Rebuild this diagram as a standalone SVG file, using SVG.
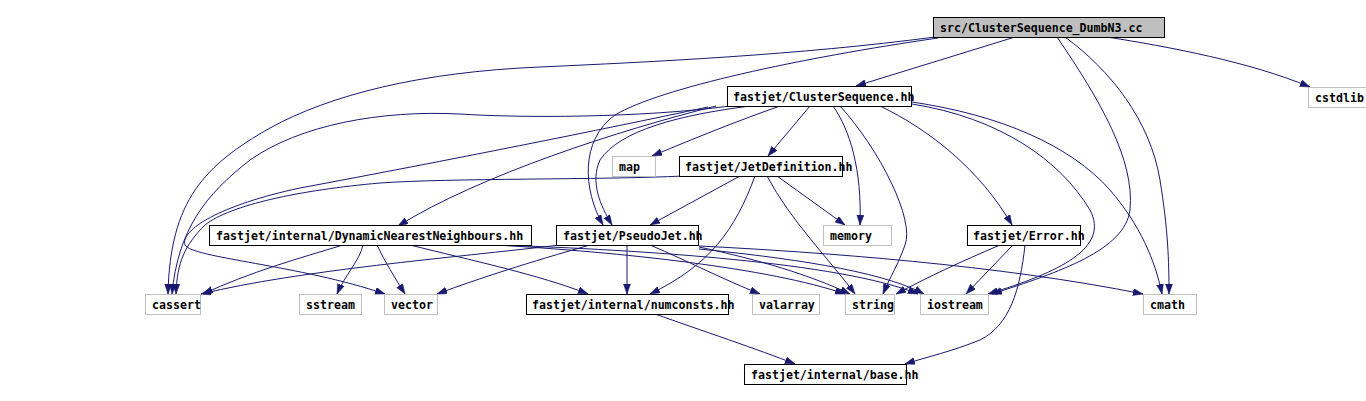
<svg xmlns="http://www.w3.org/2000/svg" width="1366" height="401" viewBox="0 0 1366 401">
<style>
.box{fill:#ffffff;stroke:#000000;stroke-width:1}
.ext{fill:#ffffff;stroke:#bfbfbf;stroke-width:1}
.root{fill:#bfbfbf;stroke:#000000;stroke-width:1}
text{font-family:"DejaVu Sans Mono","Liberation Mono",monospace;font-weight:bold;font-size:11.6px;fill:#000000}
.edge path{fill:none;stroke:#191970;stroke-width:1;marker-end:url(#arrow)}
</style>
<defs>
<marker id="arrow" markerUnits="userSpaceOnUse" markerWidth="11" markerHeight="8" refX="10" refY="3.5" orient="auto">
<path d="M0,0 L10,3.5 L0,7 z" fill="#191970" stroke="#191970" stroke-width="0.5"/>
</marker>
</defs>
<rect width="1366" height="401" fill="#ffffff"/>
<g id="edges" class="edge">
<!-- src -->
<path d="M1015,37 L856,86"/>
<path d="M1107,37 C1170,47 1250,62 1310,87"/>
<path d="M1057,37 C1100,100 1135,160 1130,210 C1125,250 1060,272 992,294"/>
<path d="M1065,37 C1110,70 1150,120 1160,180 C1168,230 1169,260 1169,294"/>
<path d="M938,38 C800,58 660,88 615,115 C580,140 583,190 603,225"/>
<path d="M935,37 C800,55 650,62 540,67 C420,72 330,95 270,128 C205,165 170,200 168,294"/>
<!-- ClusterSequence.hh -->
<path d="M810,106 L768,156"/>
<path d="M780,106 C740,120 700,136 652,156"/>
<path d="M833,106 C850,130 862,170 860,225"/>
<path d="M840,106 C880,150 915,220 905,245 C898,265 890,277 883,294"/>
<path d="M880,106 C930,130 980,170 1012,225"/>
<path d="M912,104 C1000,118 1060,160 1090,210 C1110,248 1060,272 988,294"/>
<path d="M912,102 C1000,115 1070,145 1110,190 C1140,225 1155,260 1162,294"/>
<path d="M730,106 C640,118 520,118 460,114 C380,110 300,125 250,160 C205,195 178,230 172,294"/>
<path d="M716,106 C620,130 480,175 398,226"/>
<path d="M708,107 C600,130 450,160 300,188 C220,205 180,230 185,245 C192,258 300,265 385,294"/>
<path d="M750,106 C680,115 620,130 600,160 C590,182 600,205 612,225"/>
<!-- JetDefinition.hh -->
<path d="M684,176 C600,180 450,178 380,183 C300,190 230,205 205,225 C185,245 177,262 176,294"/>
<path d="M740,176 L650,225"/>
<path d="M755,176 C735,230 710,265 650,294"/>
<path d="M767,176 C790,220 830,260 855,294"/>
<path d="M777,176 L845,225"/>
<!-- DynamicNearestNeighbours.hh -->
<path d="M343,245 C300,258 250,272 203,294"/>
<path d="M363,245 C360,260 345,275 337,294"/>
<path d="M377,245 C385,262 395,278 405,294"/>
<path d="M410,245 C470,260 540,275 588,294"/>
<path d="M495,245 C620,252 770,268 845,294"/>
<path d="M500,245 C640,250 840,262 918,294"/>
<!-- PseudoJet.hh -->
<path d="M560,245 C450,258 300,270 201,294"/>
<path d="M590,245 C530,262 480,278 437,294"/>
<path d="M627,245 L627,294"/>
<path d="M650,245 C690,262 720,278 760,294"/>
<path d="M699,247 C760,260 810,275 850,294"/>
<path d="M699,249 C780,257 880,270 924,294"/>
<path d="M699,246 C820,252 1000,265 1143,294"/>
<!-- Error.hh -->
<path d="M1000,245 C960,262 930,276 896,294"/>
<path d="M1013,245 L966,294"/>
<path d="M1025,245 C1020,290 1010,325 980,340 C950,352 930,356 905,364"/>
<!-- numconsts.hh -->
<path d="M655,314 C700,330 760,350 795,364"/>
</g>
<g id="node1"><rect class="root" x="933.5" y="17.5" width="231" height="20"/><text x="940" y="31.5">src/ClusterSequence_DumbN3.cc</text></g>
<g id="node2"><rect class="ext" x="1308.5" y="87.5" width="60" height="20"/><text x="1315" y="101.5">cstdlib</text></g>
<g id="node3"><rect class="box" x="727.5" y="86.5" width="184" height="20"/><text x="733" y="100.5">fastjet/ClusterSequence.hh</text></g>
<g id="node4"><rect class="ext" x="612.5" y="156.5" width="43" height="20"/><text x="619" y="170.5">map</text></g>
<g id="node5"><rect class="box" x="679.5" y="156.5" width="163" height="20"/><text x="685" y="170.5">fastjet/JetDefinition.hh</text></g>
<g id="node6"><rect class="box" x="209.5" y="225.5" width="322" height="20"/><text x="216" y="239.5">fastjet/internal/DynamicNearestNeighbours.hh</text></g>
<g id="node7"><rect class="box" x="556.5" y="225.5" width="142" height="20"/><text x="563" y="239.5">fastjet/PseudoJet.hh</text></g>
<g id="node8"><rect class="ext" x="823.5" y="225.5" width="68" height="20"/><text x="830" y="239.5">memory</text></g>
<g id="node9"><rect class="box" x="967.5" y="225.5" width="113" height="20"/><text x="973" y="239.5">fastjet/Error.hh</text></g>
<g id="node10"><rect class="ext" x="145.5" y="294.5" width="55" height="20"/><text x="152" y="308.5">cassert</text></g>
<g id="node11"><rect class="ext" x="299.5" y="294.5" width="62" height="20"/><text x="306" y="308.5">sstream</text></g>
<g id="node12"><rect class="ext" x="384.5" y="294.5" width="53" height="20"/><text x="391" y="308.5">vector</text></g>
<g id="node13"><rect class="box" x="526.5" y="294.5" width="202" height="20"/><text x="532" y="308.5">fastjet/internal/numconsts.hh</text></g>
<g id="node14"><rect class="ext" x="752.5" y="294.5" width="67" height="20"/><text x="759" y="308.5">valarray</text></g>
<g id="node15"><rect class="ext" x="845.5" y="294.5" width="49" height="20"/><text x="852" y="308.5">string</text></g>
<g id="node16"><rect class="ext" x="920.5" y="294.5" width="68" height="20"/><text x="927" y="308.5">iostream</text></g>
<g id="node17"><rect class="ext" x="1143.5" y="294.5" width="53" height="20"/><text x="1150" y="308.5">cmath</text></g>
<g id="node18"><rect class="box" x="744.5" y="364.5" width="162" height="20"/><text x="751" y="378.5">fastjet/internal/base.hh</text></g>
</svg>
